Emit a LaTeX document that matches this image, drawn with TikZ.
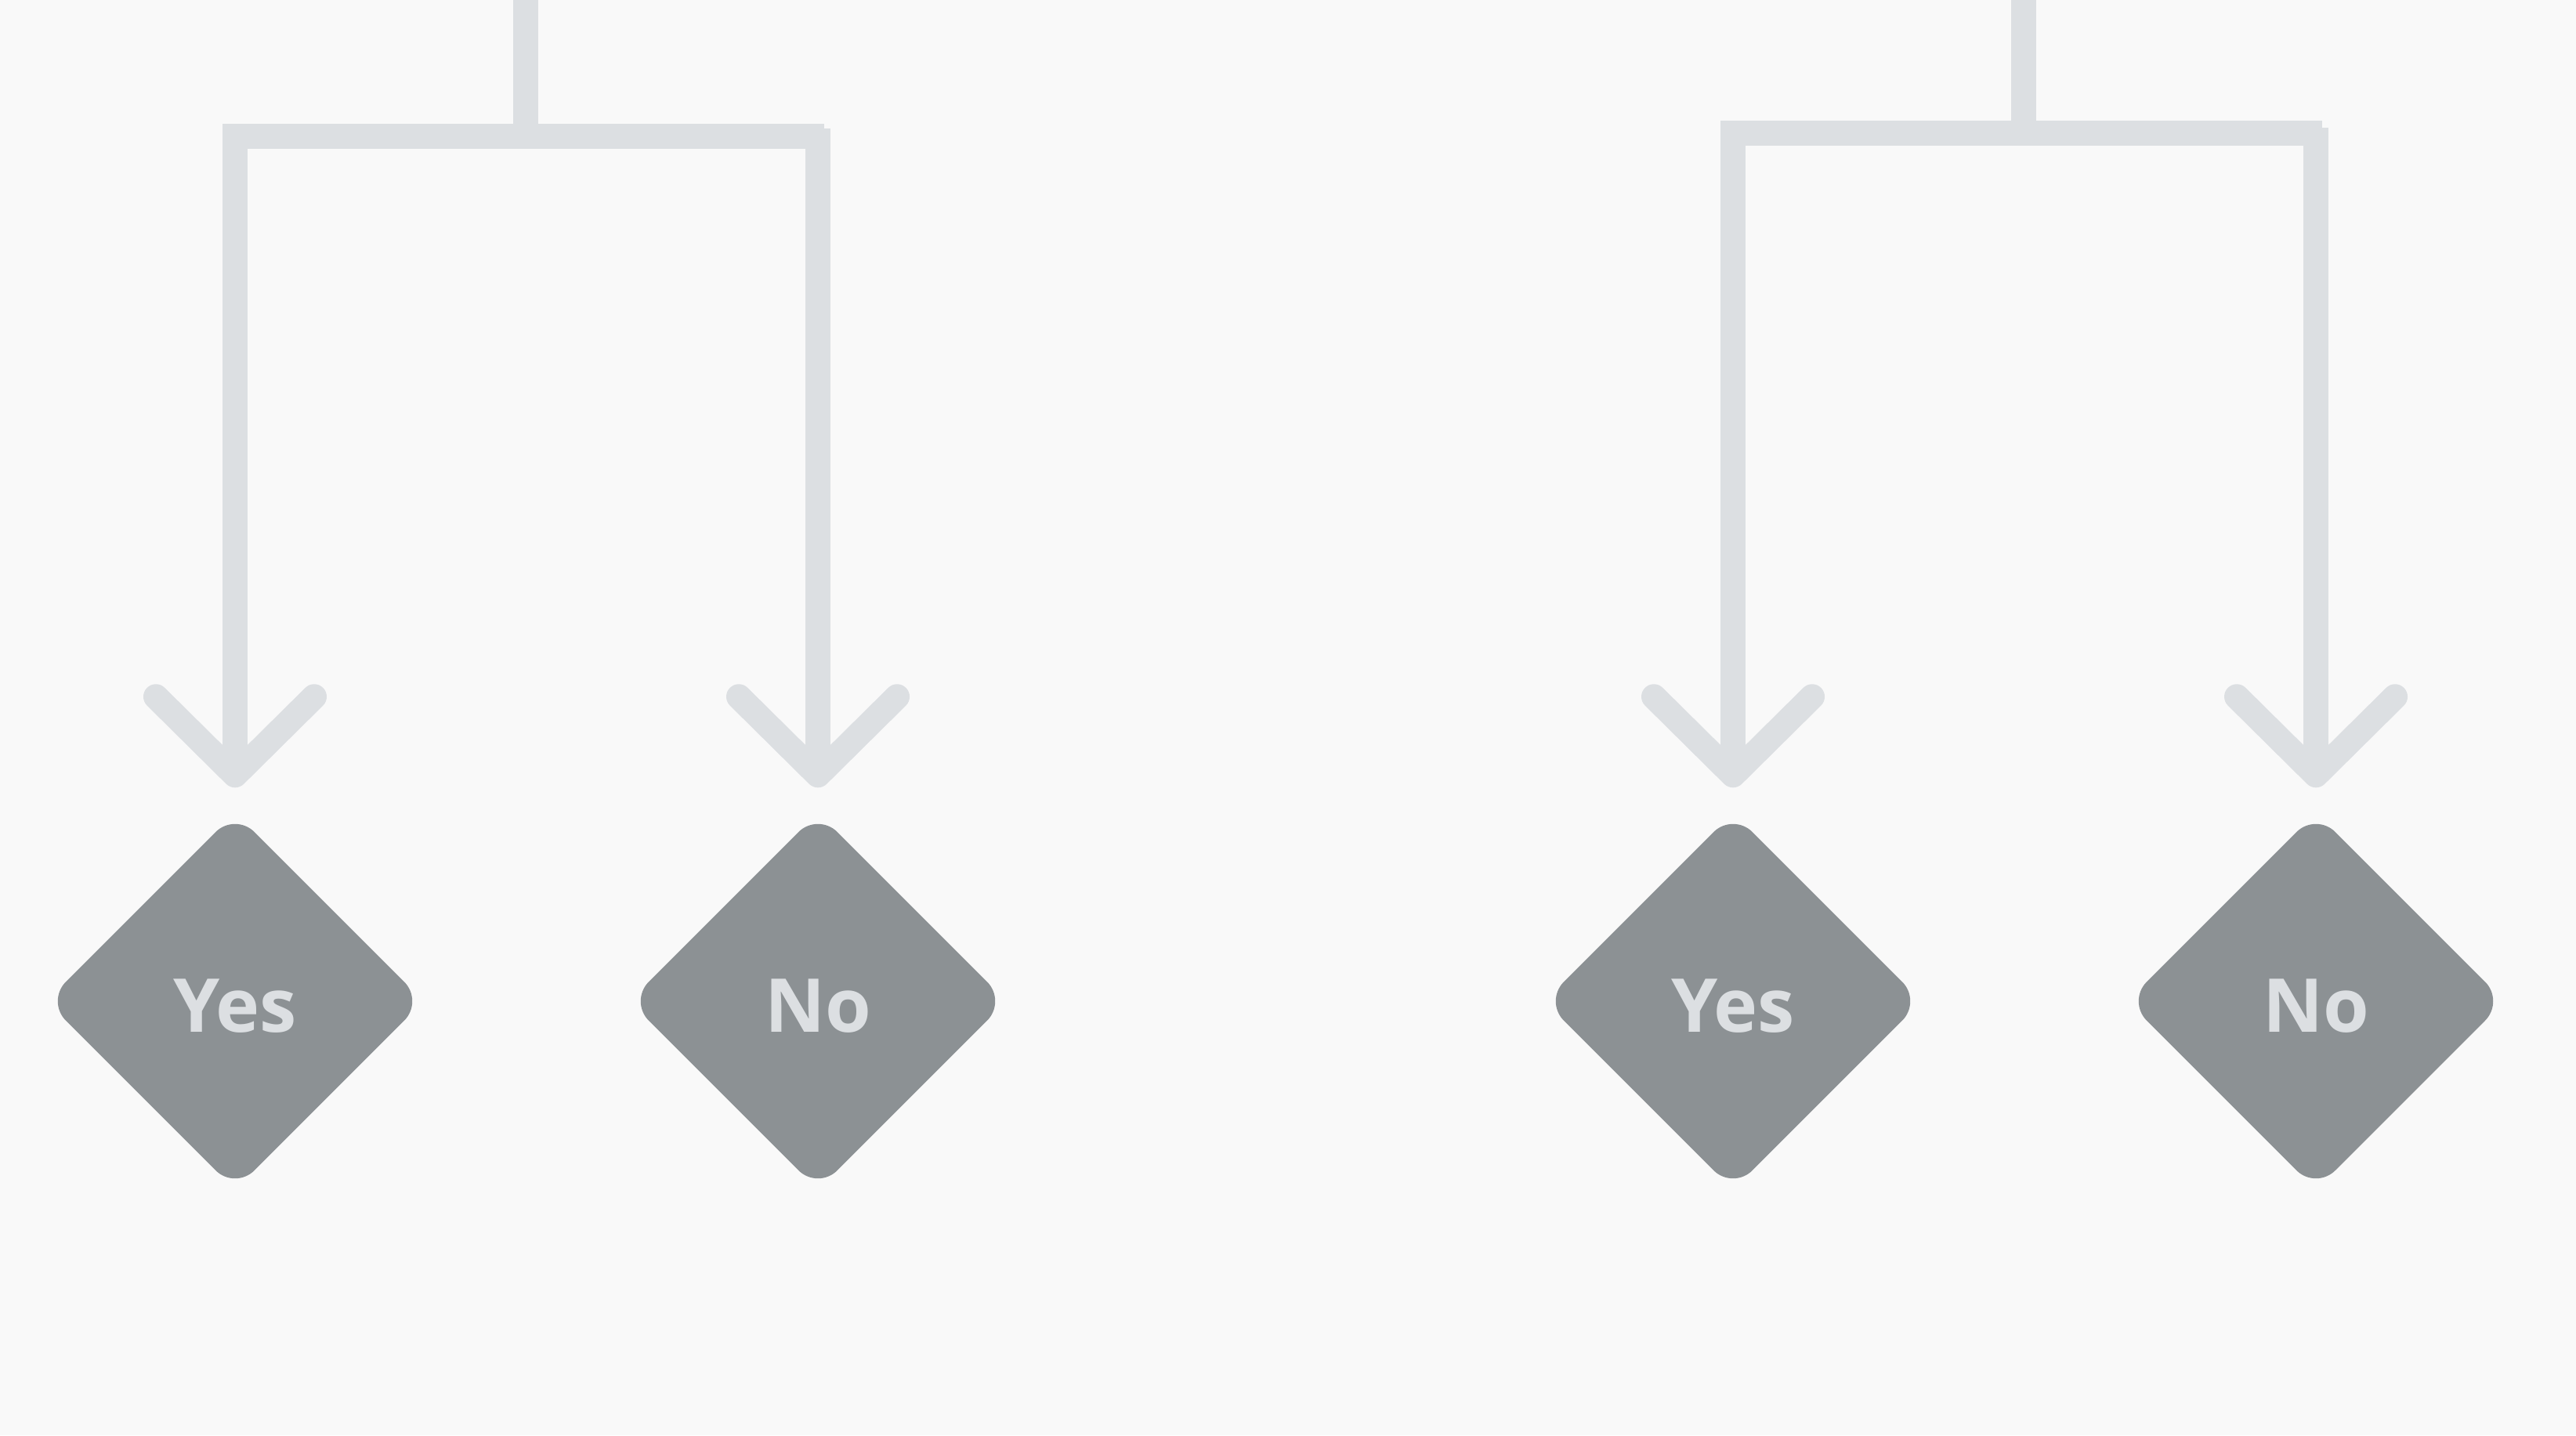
\documentclass[tikz,border=0pt]{standalone}
\usepackage{fontspec}
\setmainfont{Open Sans}
\usetikzlibrary{shapes.geometric,positioning}
\definecolor{paper}{HTML}{F9F9F9}
\definecolor{linkgray}{HTML}{DCDFE2}
\definecolor{boxgray}{HTML}{8C9194}
\tikzset{
	link/.style={draw=linkgray, line width=0.32cm, line join=miter},
	barb/.style={draw=linkgray, line width=0.32cm, line cap=round, line join=round},
	choice/.style={diamond, fill=boxgray, text=linkgray, minimum width=4.82cm, minimum height=4.82cm, inner sep=0pt, rounded corners=0.35cm, text height=0.78cm, text depth=0pt, font=\fontsize{27}{30}\selectfont\bfseries},
}
\begin{document}
\begin{tikzpicture}
	\fill[paper] (0,0) rectangle (32.88,18.32);
	\useasboundingbox (0,0) rectangle (32.88,18.32);

	% answers
	\node[choice] (yes1) at (3.00,5.54) {Yes};
	\node[choice] (no1) at (10.44,5.54) {No};
	\node[choice] (yes2) at (22.12,5.54) {Yes};
	\node[choice] (no2) at (29.56,5.54) {No};

	\foreach \n in {yes1,no1,yes2,no2}{
		\coordinate[above=0.47cm of \n] (tip-\n);
	}

	% first split
	\coordinate (inA) at (6.71,18.32);
	\coordinate (jA) at (6.71,16.58);
	\coordinate (endA) at (10.52,16.58);
	\coordinate (topA) at (10.44,16.68);
	\draw[link] (inA) -- (jA);
	\draw[link] (endA) -- (tip-yes1 |- jA) -- (tip-yes1);
	\draw[link] (topA) -- (tip-no1);

	% second split
	\coordinate (inB) at (25.83,18.32);
	\coordinate (jB) at (25.83,16.615);
	\coordinate (endB) at (29.64,16.615);
	\coordinate (topB) at (29.56,16.69);
	\draw[link] (inB) -- (jB);
	\draw[link] (endB) -- (tip-yes2 |- jB) -- (tip-yes2);
	\draw[link] (topB) -- (tip-no2);

	\foreach \n in {yes1,no1,yes2,no2}{
		\draw[barb] ([shift={(-1.01,1.0)}]tip-\n) -- (tip-\n) -- ([shift={(1.01,1.0)}]tip-\n);
	}
\end{tikzpicture}
\end{document}
